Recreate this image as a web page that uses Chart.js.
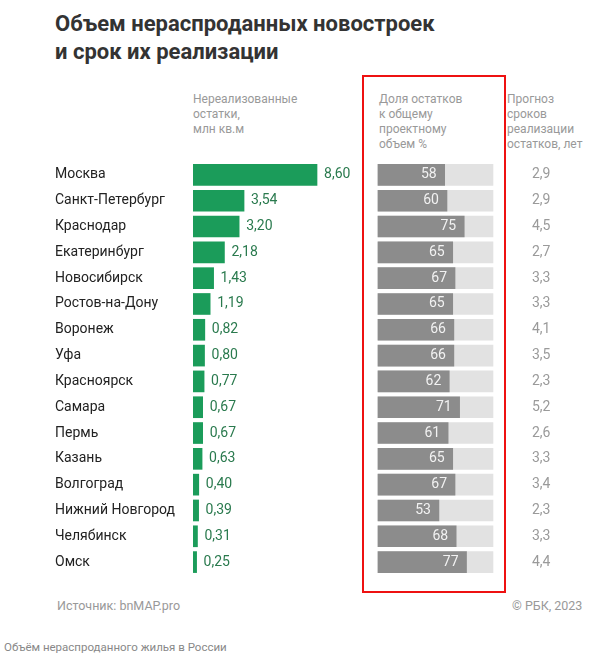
<!DOCTYPE html>
<html><head><meta charset="utf-8">
<script src="https://cdn.jsdelivr.net/npm/chart.js@4"></script>
<style>
body{margin:0;width:592px;height:667px;background:#fff;font-family:Roboto,"Noto Sans",sans-serif;position:relative;overflow:hidden}
.t{position:absolute;left:55px;top:10px;font-size:22px;font-weight:700;color:#333;line-height:28px}
.h{position:absolute;top:92px;font-size:12px;color:#999;line-height:15px}
.red{position:absolute;left:362px;top:75px;width:140px;height:514px;border:2px solid #e11;}
.s{position:absolute;top:598px;font-size:12.5px;color:#999}
.c{position:absolute;left:4px;top:640px;font-size:11.5px;color:#888}
canvas{position:absolute;left:0;top:0}
</style></head><body>
<div class="t">Объем нераспроданных новостроек<br>и срок их реализации</div>
<div class="h" style="left:193px">Нереализованные<br>остатки,<br>млн кв.м</div>
<div class="h" style="left:379px">Доля остатков<br>к общему<br>проектному<br>объем %</div>
<div class="h" style="left:507px">Прогноз<br>сроков<br>реализации<br>остатков, лет</div>
<div class="red"></div>
<div class="s" style="left:57px">Источник: bnMAP.pro</div>
<div class="s" style="left:512px">© РБК, 2023</div>
<div class="c">Объём нераспроданного жилья в России</div>
<div style="position:absolute;left:0;top:0;width:592px;height:667px"><canvas id="c"></canvas></div>
<script>
const cities=["Москва","Санкт-Петербург","Краснодар","Екатеринбург","Новосибирск","Ростов-на-Дону","Воронеж","Уфа","Красноярск","Самара","Пермь","Казань","Волгоград","Нижний Новгород","Челябинск","Омск"];
const remains=[8.60,3.54,3.20,2.18,1.43,1.19,0.82,0.80,0.77,0.67,0.67,0.63,0.40,0.39,0.31,0.25];
const share=[58,60,75,65,67,65,66,66,62,71,61,65,67,53,68,77];
const years=["2,9","2,9","4,5","2,7","3,3","3,3","4,1","3,5","2,3","5,2","2,6","3,3","3,4","2,3","3,3","4,4"];
const full=cities.map(()=>100);
const fmt=v=>v.toFixed(2).replace('.',',');
const labelsPlugin={id:'lbl',afterDatasetsDraw(ch){
 const ctx=ch.ctx,y=ch.scales.y,x1=ch.scales.x1,x2=ch.scales.x2;
 ctx.save();ctx.font='14px Roboto, sans-serif';ctx.textBaseline='middle';
 cities.forEach((c,i)=>{const yy=y.getPixelForValue(i);
  ctx.fillStyle='#2a7a4e';ctx.textAlign='left';ctx.fillText(fmt(remains[i]),x1.getPixelForValue(remains[i])+7,yy);
  ctx.fillStyle='#f2f2f2';ctx.textAlign='right';ctx.fillText(share[i],x2.getPixelForValue(share[i])-8,yy);
  ctx.fillStyle='#9a9a9a';ctx.textAlign='left';ctx.fillText(years[i],532,yy);
 });ctx.restore();}};
new Chart(document.getElementById('c'),{type:'bar',
 data:{labels:cities,datasets:[
  {data:remains,xAxisID:'x1',backgroundColor:'#1b9c5a',barThickness:21,grouped:false},
  {data:share,xAxisID:'x2',backgroundColor:'#8c8c8c',barThickness:21,grouped:false,order:0},
  {data:full,xAxisID:'x2',backgroundColor:'#e2e2e2',barThickness:21,grouped:false,order:1}
 ]},
 options:{indexAxis:'y',responsive:true,maintainAspectRatio:false,animation:false,
  layout:{padding:{left:55,top:162,bottom:92,right:32}},
  plugins:{legend:{display:false},tooltip:{enabled:false}},
  scales:{
   y:{grid:{display:false},border:{display:false},afterFit:s=>{s.width=138},
      ticks:{crossAlign:'far',color:'#222',font:{size:14,family:'Roboto'},padding:0}},
   x1:{display:false,min:0,max:25.45},
   x2:{display:false,min:-160.9,max:158.3}
  }},
 plugins:[labelsPlugin]});
</script></body></html>
